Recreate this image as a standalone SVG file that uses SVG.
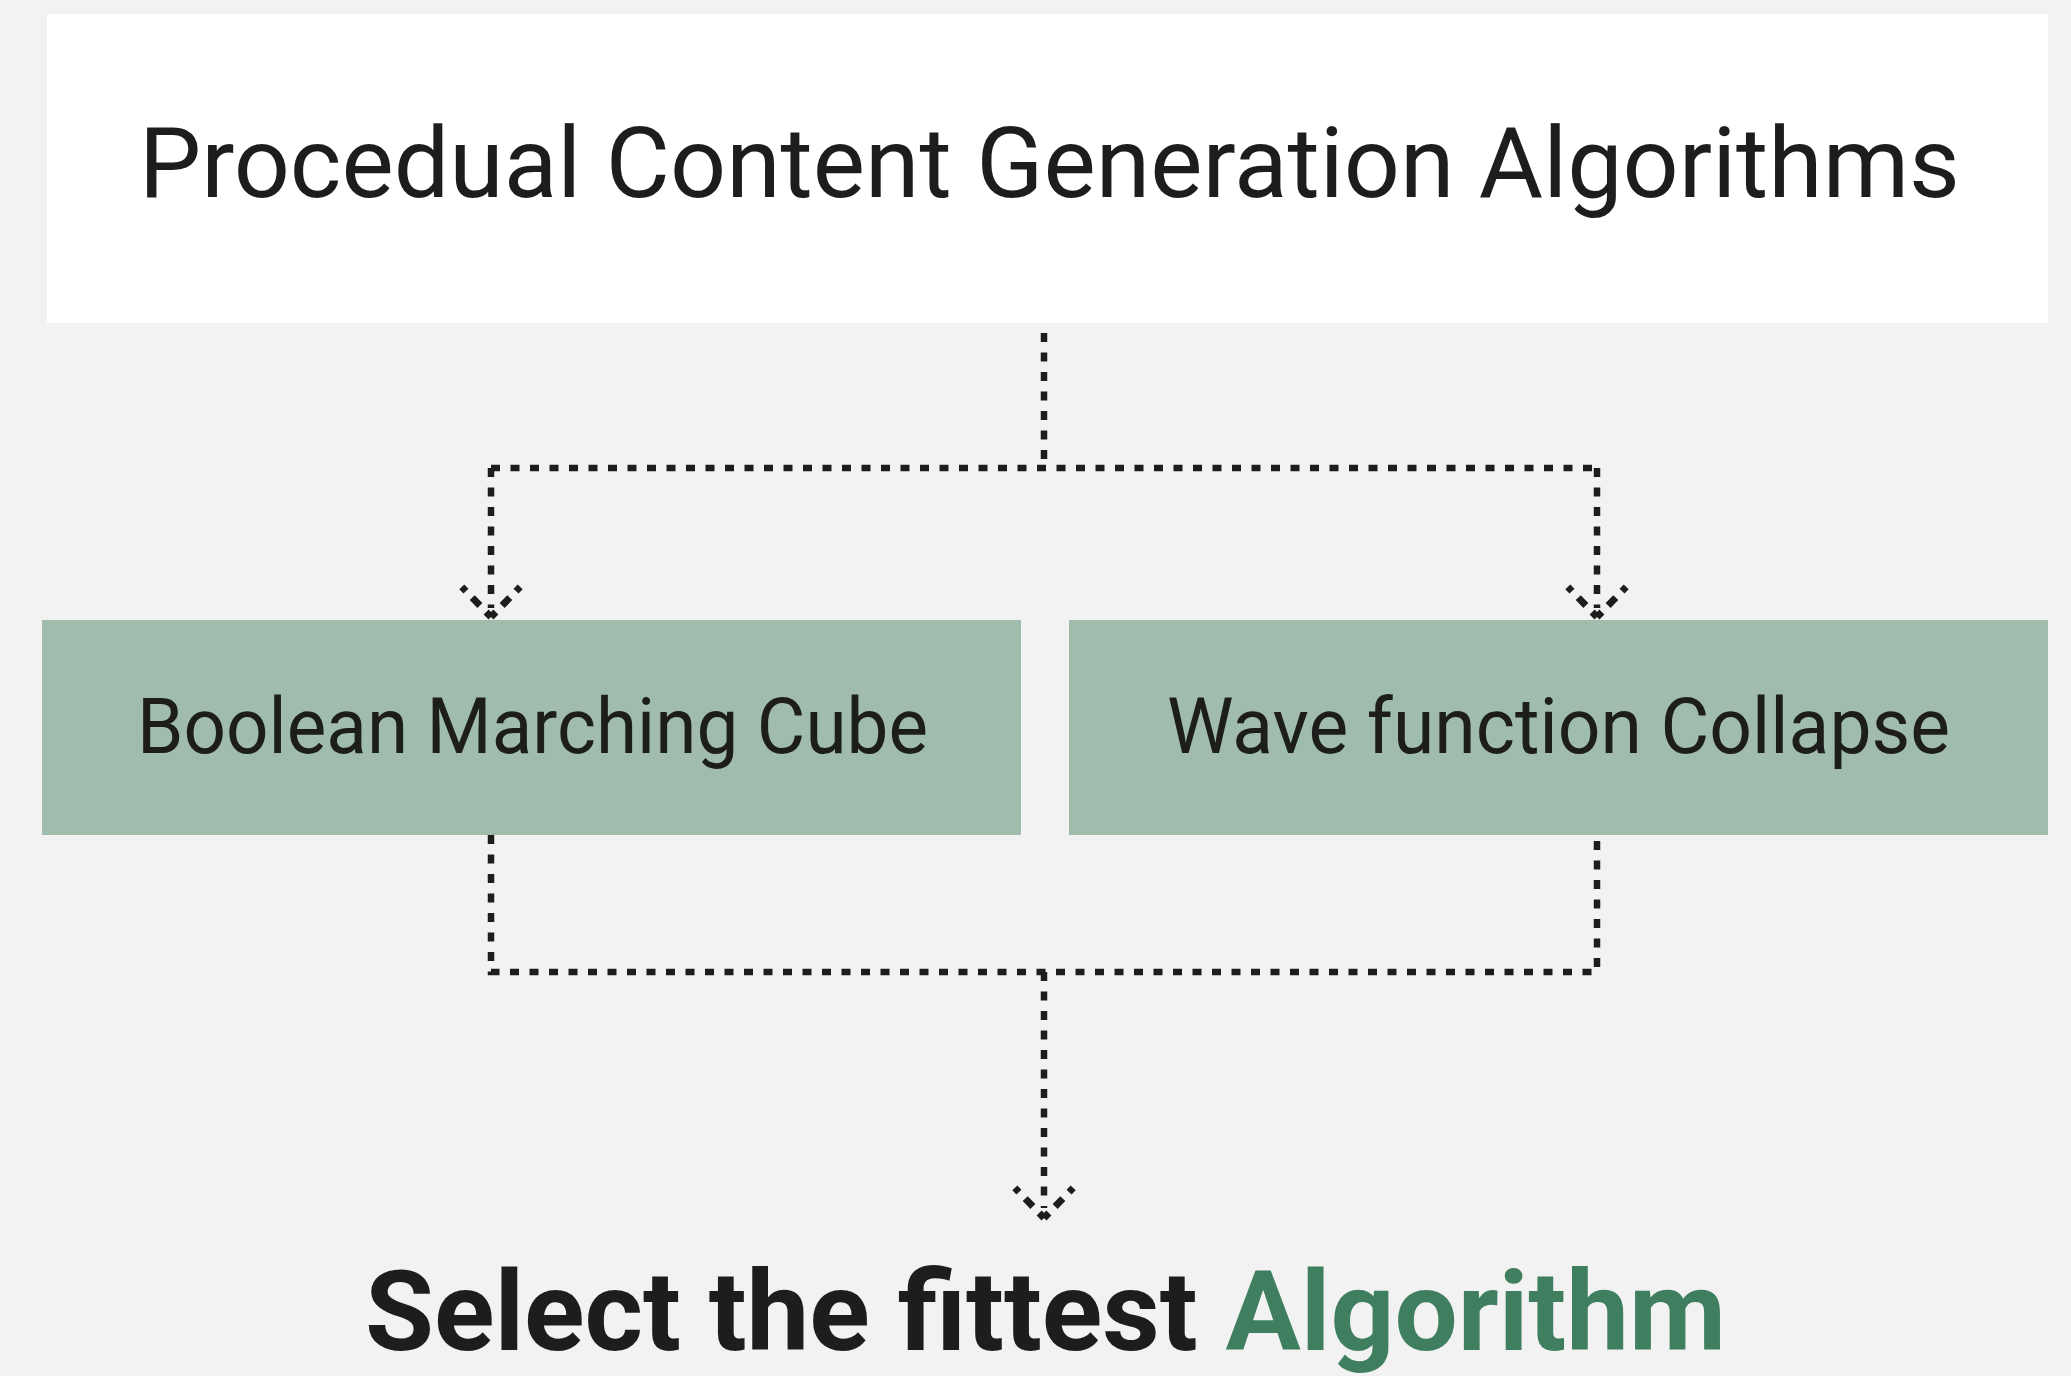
<svg xmlns="http://www.w3.org/2000/svg" width="2071" height="1376" viewBox="0 0 2071 1376">
<style>
.bg{fill:#f2f2f2}
.top{fill:#ffffff}
.alg{fill:#a0bcad}
.t{font-family:Roboto,"DejaVu Sans",sans-serif;fill:#1d1d1b}
.c{fill:none;stroke:#1d1d1b;stroke-width:6.5;stroke-dasharray:9 10.5}
.ah{fill:none;stroke:#1d1d1b;stroke-width:7;stroke-dasharray:7 9 11 9 6 40}
.hl{fill:#3f7f5f}
</style>
<rect class="bg" x="0" y="0" width="2071" height="1376"/>
<g id="node-pcg">
<rect class="top" x="47" y="14" width="2001" height="309"/>
<text class="t" x="139" y="197" font-size="98" textLength="1821" lengthAdjust="spacingAndGlyphs">Procedual Content Generation Algorithms</text>
</g>
<g id="node-bmc">
<rect class="alg" x="42" y="620" width="979" height="215"/>
<text class="t" x="137" y="753" font-size="77" textLength="791" lengthAdjust="spacingAndGlyphs">Boolean Marching Cube</text>
</g>
<g id="node-wfc">
<rect class="alg" x="1069" y="620" width="979" height="215"/>
<text class="t" x="1167" y="753" font-size="77" textLength="783" lengthAdjust="spacingAndGlyphs">Wave function Collapse</text>
</g>
<g id="node-select">
<text class="t" x="365" y="1350" font-size="112" font-weight="bold" textLength="1361" lengthAdjust="spacingAndGlyphs">Select the fittest <tspan class="hl">Algorithm</tspan></text>
</g>
<g id="connectors">
<path class="c" d="M1044 333 V468"/>
<path class="c" d="M491 468 H1597"/>
<path class="c" d="M491 468 V608"/>
<path class="c" d="M1597 468 V608"/>
<path class="ah" d="M491 617 L461 586 M491 617 L521 586"/>
<path class="ah" d="M1597 617 L1567 586 M1597 617 L1627 586"/>
<path class="c" d="M491 835 V972 H1597 V835"/>
<path class="c" d="M1044 972 V1208"/>
<path class="ah" d="M1044 1218 L1014 1187 M1044 1218 L1074 1187"/>
</g>
</svg>
